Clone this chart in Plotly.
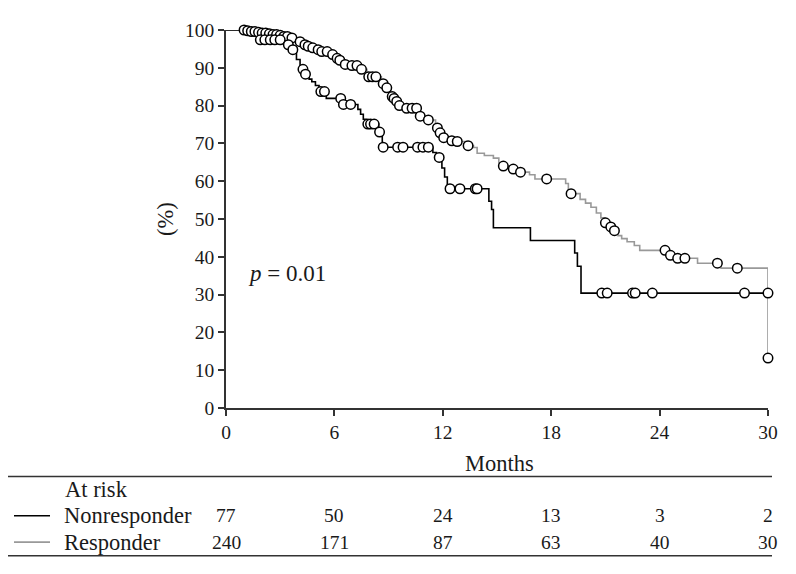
import plotly.graph_objects as go

# Kaplan-Meier step points (months, % surviving)
nonresp_time = [0, 1.5, 1.9, 3.4, 3.65, 3.9, 4.1, 4.3, 4.6, 4.75, 4.95, 5.15, 5.55, 6.45,
                7.3, 7.45, 7.6, 7.75, 8.45, 8.65, 11.45, 11.65, 11.95, 12.1, 12.25,
                14.55, 14.7, 14.8, 16.85, 19.3, 19.45, 19.65, 30]
nonresp_surv = [100, 98.7, 97.4, 96.1, 94.8, 92.2, 89.6, 88.3, 87.0, 86.3, 85.3, 83.7, 81.9, 80.3,
                79.0, 77.7, 76.4, 75.1, 73.0, 69.0, 67.6, 66.3, 63.5, 61.1, 58.0,
                54.7, 52.5, 47.7, 44.3, 41.0, 37.5, 30.4, 30.4]

resp_time = [0, 1.2, 2.0, 2.6, 3.2, 3.6, 4.0, 4.3, 4.7, 5.0, 5.25, 5.8, 6.1, 6.3, 6.5, 6.9, 7.45,
             7.8, 8.6, 8.8, 9.1, 9.3, 9.4, 9.55, 9.9, 10.65, 10.9, 11.1, 11.6, 11.8, 12.0,
             12.4, 12.7, 13.3, 13.7, 13.9, 14.3, 14.8, 15.1, 15.3, 15.8, 16.2, 16.8, 17.1,
             18.8, 18.95, 19.6, 19.9, 20.2, 20.5, 20.75, 20.95, 21.25, 21.45, 21.7, 21.9,
             22.2, 22.6, 22.9, 24.5, 24.9, 26.1, 27.4, 30]
resp_surv = [100, 99.6, 99.2, 98.8, 98.3, 97.9, 96.9, 96.1, 95.3, 94.8, 94.3, 93.5, 92.5, 92.0,
             90.9, 90.6, 89.6, 87.6, 85.8, 84.7, 82.4, 81.9, 81.1, 80.0, 79.3, 77.7, 77.2,
             76.2, 74.1, 72.8, 71.5, 70.7, 70.5, 69.4, 68.9, 67.4, 66.8, 66.1, 64.8, 64.0,
             63.2, 62.4, 61.7, 60.6, 59.4, 56.7, 55.2, 54.2, 53.1, 51.6, 50.3, 49.0, 47.9,
             46.9, 45.6, 44.8, 44.0, 43.0, 41.7, 40.4, 39.6, 38.3, 37.0, 13.2]

# censored observations
nonresp_cens_time = [1.9, 2.15, 2.45, 2.7, 3.0, 3.45, 3.7, 4.26, 4.4, 5.25, 5.45, 6.35, 6.5,
                     6.9, 7.85, 8.0, 8.2, 8.5, 8.7, 9.5, 9.8, 10.6, 10.9, 11.2, 11.8, 12.4,
                     12.95, 13.8, 13.9, 20.8, 21.1, 22.5, 22.65, 23.6, 28.7, 30]
nonresp_cens_surv = [97.4, 97.4, 97.4, 97.4, 97.4, 96.1, 94.8, 89.6, 88.3, 83.7, 83.7, 81.9, 80.3,
                     80.3, 75.1, 75.1, 75.1, 73.0, 69.0, 69.0, 69.0, 69.0, 69.0, 69.0, 66.3, 58.0,
                     58.0, 58.0, 58.0, 30.4, 30.4, 30.4, 30.4, 30.4, 30.4, 30.4]

resp_cens_time = [1.0, 1.2, 1.4, 1.6, 1.8, 2.0, 2.2, 2.4, 2.6, 2.8, 3.0, 3.2, 3.4, 3.65, 4.1,
                  4.37, 4.55, 4.8, 5.1, 5.3, 5.6, 5.9, 6.15, 6.3, 6.6, 6.97, 7.25, 7.5, 7.9,
                  8.1, 8.3, 8.7, 8.9, 9.2, 9.3, 9.45, 9.6, 10.0, 10.3, 10.55, 10.75, 11.2,
                  11.7, 11.85, 12.05, 12.5, 12.8, 13.4, 15.35, 15.9, 16.3, 17.75, 19.1, 21.0,
                  21.3, 21.5, 24.3, 24.6, 25.0, 25.4, 27.2, 28.3, 30]
resp_cens_surv = [100, 99.8, 99.6, 99.6, 99.4, 99.2, 99.2, 99.0, 98.8, 98.8, 98.6, 98.3, 98.3,
                  97.9, 96.9, 96.1, 95.7, 95.3, 94.8, 94.3, 94.3, 93.5, 92.5, 92.0, 90.9, 90.6,
                  90.6, 89.6, 87.6, 87.6, 87.6, 85.8, 84.7, 82.4, 81.9, 81.1, 80.0, 79.3, 79.3,
                  79.3, 77.2, 76.2, 74.1, 72.8, 71.5, 70.7, 70.5, 69.4, 64.0, 63.2, 62.4, 60.6,
                  56.7, 49.0, 47.9, 46.9, 41.7, 40.4, 39.6, 39.6, 38.3, 37.0, 13.2]

x_ticks = [0, 6, 12, 18, 24, 30]
y_ticks = [0, 10, 20, 30, 40, 50, 60, 70, 80, 90, 100]
risk_groups = ["Nonresponder", "Responder"]
risk_nonresp = [77, 50, 24, 13, 3, 2]
risk_resp = [240, 171, 87, 63, 40, 30]

FONT = "Liberation Serif"
GRAY = "#999999"
INK = "#1a1a1a"

# plot area in window pixels: x 226..768, y 22..408 (page body adds an 8px offset)
def px_x(px):
    return (px - 226) / 542.0


def px_y(py):
    return (408 - py) / 386.0


fig = go.Figure()
fig.add_trace(go.Scatter(x=resp_time, y=resp_surv, mode="lines", line_shape="hv",
                         line=dict(color=GRAY, width=1.6), cliponaxis=False))
fig.add_trace(go.Scatter(x=nonresp_time, y=nonresp_surv, mode="lines", line_shape="hv",
                         line=dict(color="black", width=1.6), cliponaxis=False))
marker = dict(symbol="circle", size=9.5, color="white", line=dict(color="black", width=1.5))
fig.add_trace(go.Scatter(x=resp_cens_time, y=resp_cens_surv, mode="markers",
                         marker=marker, cliponaxis=False))
fig.add_trace(go.Scatter(x=nonresp_cens_time, y=nonresp_cens_surv, mode="markers",
                         marker=marker, cliponaxis=False))

axis_common = dict(showline=True, linecolor="#333333", linewidth=1.5, ticks="outside",
                   ticklen=6, tickwidth=1.5, tickcolor="#333333", showgrid=False,
                   zeroline=False, tickfont=dict(family=FONT, size=19.5, color=INK))
fig.update_xaxes(range=[0, 30], tickvals=x_ticks, **axis_common)
fig.update_yaxes(range=[0, 100], tickvals=y_ticks, **axis_common)

txt = dict(family=FONT, size=22.5, color=INK)
num = dict(family=FONT, size=19.5, color=INK)
ann = [
    dict(text="(%)", xref="paper", yref="paper", x=px_x(165), y=px_y(215), textangle=-90,
         showarrow=False, font=txt, xanchor="center", yanchor="middle"),
    dict(text="Months", xref="paper", yref="paper", x=px_x(499), y=px_y(465),
         showarrow=False, font=txt, xanchor="center", yanchor="middle"),
    dict(text="<i>p</i> = 0.01", xref="x", yref="y", x=1.1, y=35.5, showarrow=False,
         font=dict(family=FONT, size=23, color=INK), xanchor="left", yanchor="middle"),
    dict(text="At risk", xref="paper", yref="paper", x=px_x(63), y=px_y(491),
         showarrow=False, font=txt, xanchor="left", yanchor="middle"),
]
row_y = [518, 545]
for name, py in zip(risk_groups, row_y):
    ann.append(dict(text=name, xref="paper", yref="paper", x=px_x(62), y=px_y(py),
                    showarrow=False, font=txt, xanchor="left", yanchor="middle"))
for counts, py in zip([risk_nonresp, risk_resp], row_y):
    for t, n in zip(x_ticks, counts):
        ann.append(dict(text=str(n), xref="x", yref="paper", x=t, y=px_y(py),
                        showarrow=False, font=num, xanchor="center", yanchor="middle"))

shapes = [
    dict(type="line", xref="paper", yref="paper", x0=px_x(4), x1=px_x(772),
         y0=px_y(478), y1=px_y(478), line=dict(color="#333333", width=1.5)),
    dict(type="line", xref="paper", yref="paper", x0=px_x(4), x1=px_x(772),
         y0=px_y(559), y1=px_y(559), line=dict(color="#333333", width=1.5)),
    dict(type="line", xref="paper", yref="paper", x0=px_x(14), x1=px_x(50),
         y0=px_y(518), y1=px_y(518), line=dict(color="black", width=1.6)),
    dict(type="line", xref="paper", yref="paper", x0=px_x(14), x1=px_x(50),
         y0=px_y(545), y1=px_y(545), line=dict(color=GRAY, width=1.6)),
]

# figure is 8px smaller than the window to allow for the default body margin
fig.update_layout(width=788, height=566, autosize=False, showlegend=False,
                  margin=dict(l=218, r=28, t=14, b=166),
                  plot_bgcolor="white", paper_bgcolor="white",
                  annotations=ann, shapes=shapes)

fig.write_html("out.html")
